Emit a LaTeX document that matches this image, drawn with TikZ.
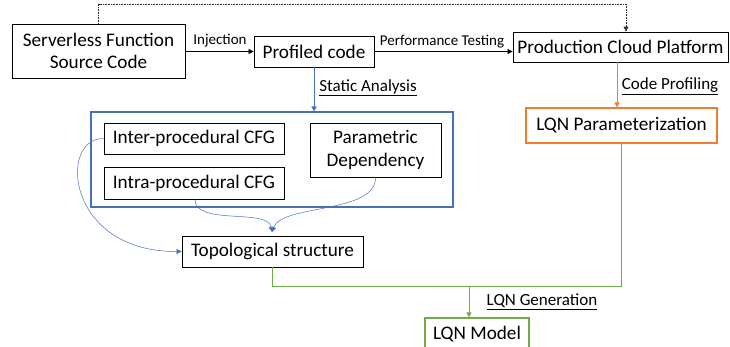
\documentclass[tikz,border=0pt]{standalone}
\usepackage{fontspec}
\setmainfont{Carlito}
\usetikzlibrary{arrows.meta,calc}
\definecolor{cblue}{HTML}{4472C4}
\definecolor{cframe}{HTML}{4A6FB0}
\definecolor{corange}{HTML}{ED7D31}
\definecolor{cgreen}{HTML}{70AD47}
\tikzset{
  box/.style={draw=black, line width=0.8pt, align=center, inner sep=0pt, font=\fontsize{19.2}{22.5}\selectfont},
  lbl/.style={inner sep=0pt, font=\fontsize{15}{17}\selectfont},
  ulbl/.style={inner sep=0pt, font=\fontsize{17}{20}\selectfont},
  tip/.style={-{Triangle[length=5pt,width=5pt]}},
  conn/.style={tip, line width=0.7pt},
}
\begin{document}
\begin{tikzpicture}[x=1pt,y=-1pt]
\useasboundingbox (0,0) rectangle (730,347);
\clip (0,0) rectangle (730,347);
% nodes
\node[box, minimum width=173pt, minimum height=54pt] (serv) at (98.5,51) {Serverless Function\\Source Code};
\node[box, minimum width=120pt, minimum height=31pt] (prof) at (314,51.5) {Profiled code};
\node[box, minimum width=215pt, minimum height=30pt] (prod) at (620.5,47) {Production Cloud Platform};
\node[draw=cframe, line width=1.1pt, minimum width=362pt, minimum height=95pt, inner sep=0pt] (cont) at (272,159.5) {};
\node[box, minimum width=180pt, minimum height=31pt] (inter) at (194,138.5) {Inter-procedural CFG};
\node[box, minimum width=180pt, minimum height=32pt] (intra) at (194,183) {Intra-procedural CFG};
\node[box, minimum width=131pt, minimum height=54pt] (param) at (375.5,150) {Parametric\\Dependency};
\node[box, minimum width=181pt, minimum height=31pt] (topo) at (272.5,251.5) {Topological structure};
\node[box, draw=corange, line width=1.1pt, minimum width=191pt, minimum height=35pt] (lqnp) at (621.5,125.5) {LQN Parameterization};
\node[box, draw=cgreen, line width=1.1pt, minimum width=104pt, minimum height=32pt] (lqnm) at (477,334) {LQN Model};
% labels
\node[lbl] (linj) at (220,41) {Injection};
\node[lbl] (lperf) at (442,41.5) {Performance Testing};
\node[ulbl] (lstat) at (368,88) {\underline{Static Analysis}};
\node[ulbl] (lcode) at (670,86) {\underline{Code Profiling}};
\node[ulbl] (lgen) at (542,302) {\underline{LQN Generation}};
% coordinates
\coordinate (d1) at (98.5,4);
\coordinate (d2) at (626,4);
\coordinate (junc) at (272,232);
\coordinate (g1) at (621,286);
\coordinate (g2) at (272.5,286);
\coordinate (g3) at (469,286);
% connectors
\draw[tip, line width=0.6pt, densely dotted, black!80] (serv.north) -- (d1) -- (d2) -- (d2 |- prod.north);
\draw[conn, black] (serv.east |- prof.west) -- (prof.west);
\draw[conn, black] (prof.east) -- (prod.west |- prof.east);
\draw[conn, cblue] (prof.south) -- (prof.south |- cont.north);
\draw[conn, corange] (prod.south -| 617,0) -- (lqnp.north -| 617,0);
\draw[conn, cblue, line width=0.5pt] (inter.west) .. controls (58,138) and (66,252) .. (topo.west);
\draw[conn, cblue, line width=0.5pt] (intra.south -| 195,0) .. controls (195,226) and (268,208) .. (junc);
\draw[conn, cblue, line width=0.5pt] (param.south) .. controls (376,214) and (282,204) .. (junc);
\draw[cgreen, line width=1pt] (lqnp.south -| 621,0) -- (g1) -- (g2) -- (topo.south);
\draw[conn, cgreen] (g3) -- (g3 |- lqnm.north);
\end{tikzpicture}
\end{document}
